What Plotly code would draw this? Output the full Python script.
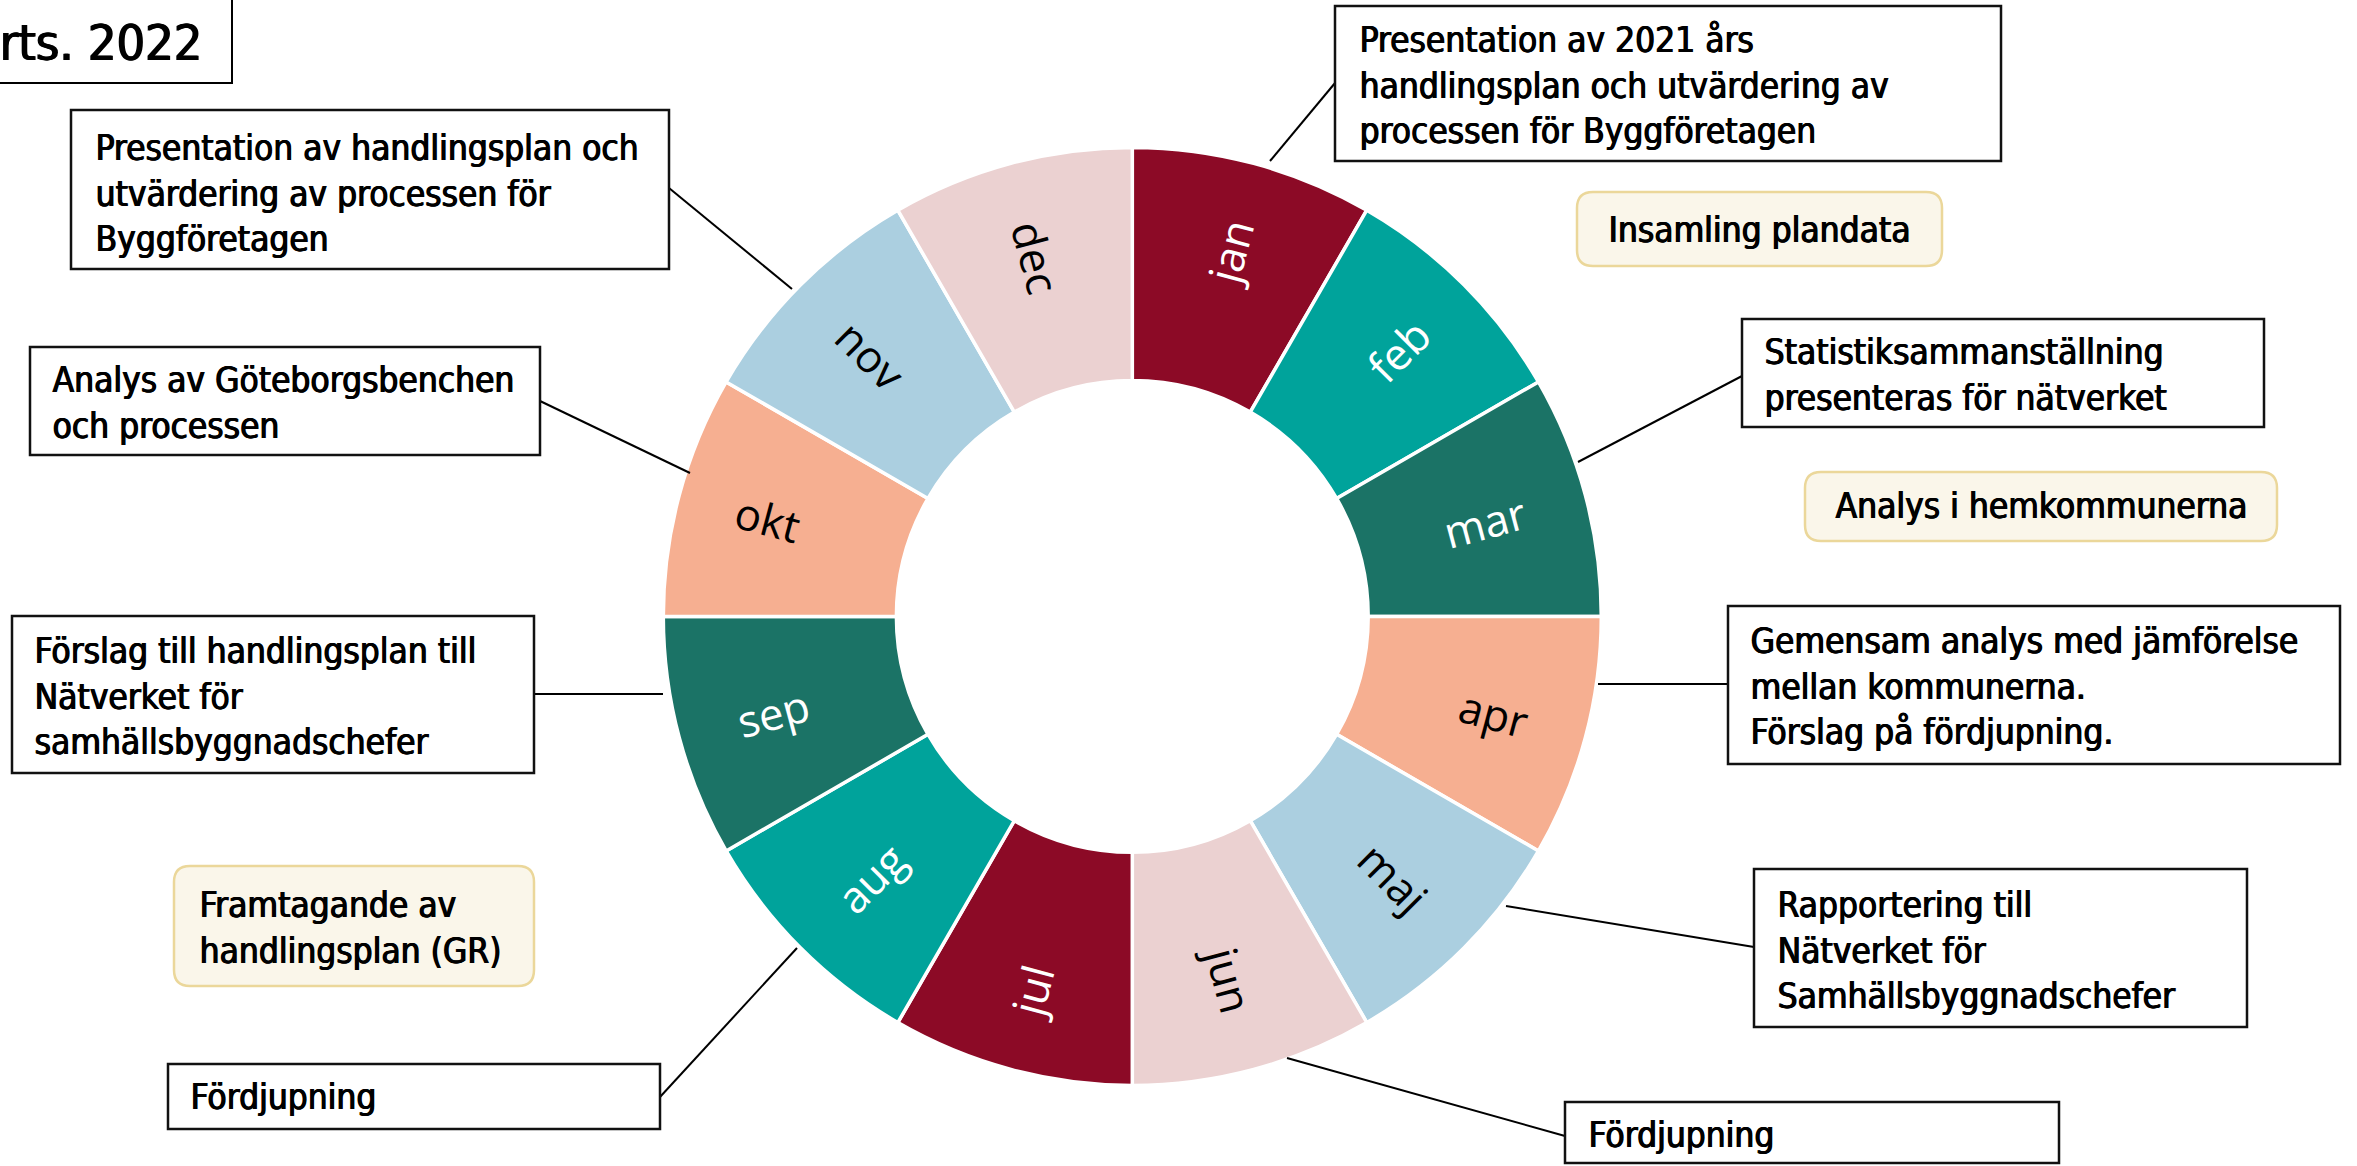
import plotly.graph_objects as go

W, H = 2357, 1166

# ---- data ----
months = ["jan", "feb", "mar", "apr", "maj", "jun", "jul", "aug", "sep", "okt", "nov", "dec"]
month_values = [1, 1, 1, 1, 1, 1, 1, 1, 1, 1, 1, 1]
month_colors = ["#8C0A26", "#00A39B", "#1B7366", "#F6AF91", "#ABCFE0", "#EBD1D1",
                "#8C0A26", "#00A39B", "#1B7366", "#F6AF91", "#ABCFE0", "#EBD1D1"]
label_colors = ["white", "white", "white", "black", "black", "black",
                "white", "white", "white", "black", "black", "black"]

title_text = "rts. 2022"
note_texts = [
    "Presentation av handlingsplan och<br>utvärdering av processen för<br>Byggföretagen",
    "Presentation av 2021 års<br>handlingsplan och utvärdering av<br>processen för Byggföretagen",
    "Statistiksammanställning<br>presenteras för nätverket",
    "Gemensam analys med jämförelse<br>mellan kommunerna.<br>Förslag på fördjupning.",
    "Rapportering till<br>Nätverket för<br>Samhällsbyggnadschefer",
    "Fördjupning",
    "Fördjupning",
    "Förslag till handlingsplan till<br>Nätverket för<br>samhällsbyggnadschefer",
    "Analys av Göteborgsbenchen<br>och processen",
]
phase_texts = [
    "Insamling plandata",
    "Analys i hemkommunerna",
    "Framtagande av<br>handlingsplan (GR)",
]

# ---- layout geometry (pixels) ----
note_boxes = [
    (71, 110, 669, 269), (1335, 6, 2001, 161), (1742, 319, 2264, 427),
    (1728, 606, 2340, 764), (1754, 869, 2247, 1027), (1565, 1102, 2059, 1163),
    (168, 1064, 660, 1129), (12, 616, 534, 773), (30, 347, 540, 455),
]
note_text_pos = [
    (93, 193), (1357, 85), (1762, 375), (1748, 686), (1775, 950),
    (1586, 1135), (188, 1097), (32, 696), (50, 403),
]
note_lines = [
    (669, 188, 792, 289), (1335, 83, 1270, 161), (1742, 376, 1578, 462),
    (1728, 684, 1598, 684), (1754, 947, 1506, 906), (1565, 1136, 1287, 1058),
    (660, 1097, 797, 948), (534, 694, 663, 694), (540, 401, 690, 473),
]
phase_boxes = [(1577, 192, 1942, 266), (1805, 472, 2277, 541), (174, 866, 534, 986)]
phase_text_pos = [(1759, 230, "center"), (2041, 506, "center"), (197, 928, "left")]

def px(x):
    return x / W

def py(y):
    return 1 - y / H

NOTE_FAMILY = "DejaVu Sans Condensed, Arial Narrow, sans-serif"
NOTE_FONT = dict(family=NOTE_FAMILY, size=35, color="black",
                 shadow="0.6px 0px 0px #000000, 1.2px 0px 0px #000000")

fig = go.Figure()

cx, cy, R = 1132.3, 616.4, 469
fig.add_trace(go.Pie(
    labels=months, values=month_values, sort=False, direction="clockwise", rotation=0,
    hole=0.503,
    marker=dict(colors=month_colors, line=dict(color="white", width=3.5)),
    textinfo="label", textposition="inside", insidetextorientation="radial",
    insidetextfont=dict(color=label_colors, size=44, family="Open Sans, Liberation Sans, Arial, sans-serif"),
    domain=dict(x=[px(cx - R), px(cx + R)], y=[py(cy + R), py(cy - R)]),
    showlegend=False, hoverinfo="label",
))

shapes = []
annotations = []

# title box (partly off-canvas)
shapes.append(dict(type="rect", xref="paper", yref="paper",
                   x0=px(-40), x1=px(232), y0=py(83), y1=py(-5),
                   line=dict(color="black", width=2), fillcolor="white", layer="above"))
annotations.append(dict(text=title_text, xref="paper", yref="paper", x=px(204), y=py(43),
                        xanchor="right", yanchor="middle", showarrow=False,
                        font=dict(family=NOTE_FAMILY, size=50, color="black",
                                  shadow="0.8px 0px 0px #000000, 1.6px 0px 0px #000000")))

for (x0, y0, x1, y1) in note_lines:
    shapes.append(dict(type="line", xref="paper", yref="paper",
                       x0=px(x0), y0=py(y0), x1=px(x1), y1=py(y1),
                       line=dict(color="black", width=2)))

for (x0, y0, x1, y1) in note_boxes:
    shapes.append(dict(type="rect", xref="paper", yref="paper",
                       x0=px(x0), x1=px(x1), y0=py(y1), y1=py(y0),
                       line=dict(color="#111111", width=2.5), fillcolor="white"))

for t, (tx, ty) in zip(note_texts, note_text_pos):
    annotations.append(dict(text=t, xref="paper", yref="paper", x=px(tx), y=py(ty),
                            xanchor="left", yanchor="middle", align="left",
                            showarrow=False, font=NOTE_FONT))

def rounded(x0, y0, x1, y1, r=16):
    X0, X1 = px(x0), px(x1)
    Y0, Y1 = py(y0), py(y1)
    rx, ry = r / W, r / H
    return (f"M {X0+rx},{Y0} L {X1-rx},{Y0} Q {X1},{Y0} {X1},{Y0-ry} "
            f"L {X1},{Y1+ry} Q {X1},{Y1} {X1-rx},{Y1} L {X0+rx},{Y1} "
            f"Q {X0},{Y1} {X0},{Y1+ry} L {X0},{Y0-ry} Q {X0},{Y0} {X0+rx},{Y0} Z")

for (x0, y0, x1, y1) in phase_boxes:
    shapes.append(dict(type="path", xref="paper", yref="paper", path=rounded(x0, y0, x1, y1),
                       line=dict(color="#EBD79A", width=2.5), fillcolor="#FAF6EA"))

for t, (tx, ty, al) in zip(phase_texts, phase_text_pos):
    annotations.append(dict(text=t, xref="paper", yref="paper", x=px(tx), y=py(ty),
                            xanchor=al, yanchor="middle", align="left",
                            showarrow=False, font=NOTE_FONT))

fig.update_layout(
    width=W, height=H, margin=dict(l=0, r=0, t=0, b=0),
    paper_bgcolor="white", plot_bgcolor="white",
    shapes=shapes, annotations=annotations, showlegend=False,
)

fig.write_html("out.html", config={"displayModeBar": False},
               post_script="document.body.style.margin='0px';document.body.style.overflow='hidden';")
